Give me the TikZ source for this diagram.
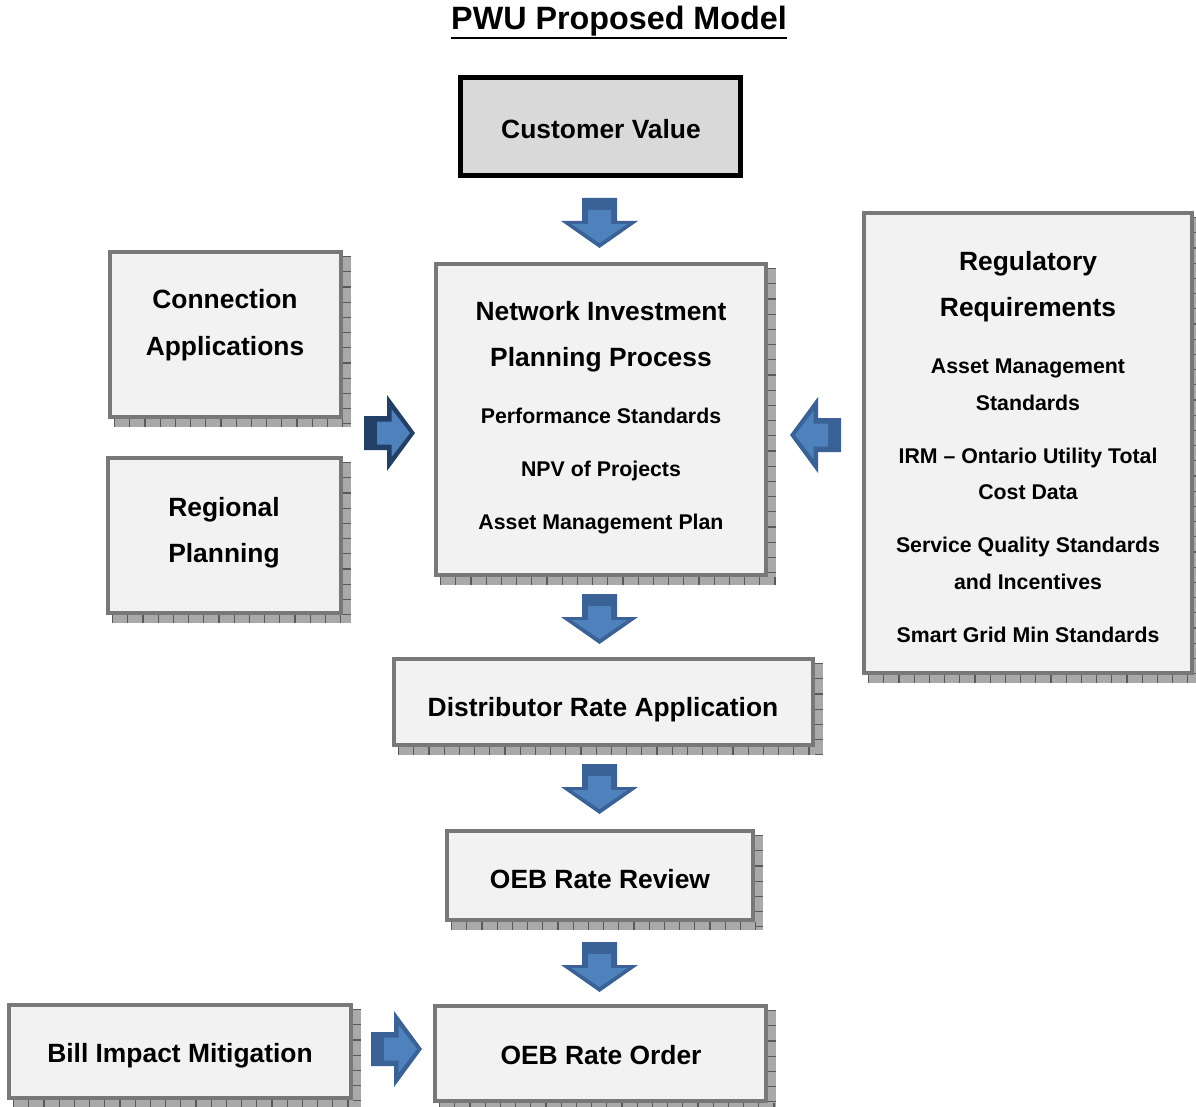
\documentclass[tikz,border=0pt]{standalone}
\usepackage{fontspec}
\setmainfont{Liberation Sans}
\usetikzlibrary{backgrounds,calc}
\definecolor{boxfill}{HTML}{F2F2F2}
\definecolor{boxline}{HTML}{787878}
\definecolor{cvfill}{HTML}{D9D9D9}
\definecolor{shadowc}{HTML}{A9A9A9}
\definecolor{tickc}{HTML}{5A5A5A}
\definecolor{arrowfill}{HTML}{4F81BD}
\definecolor{arrowline}{HTML}{3B6296}
\definecolor{arrowdark}{HTML}{243F66}
\newcommand\boxshadow[1]{%
  \fill[shadowc] ($(#1.north west)+(6,6)$) rectangle ($(#1.south east)+(8,8)$);
  \draw[tickc, line width=8pt, dash pattern=on 1.2pt off 14pt] ($(#1.south west)+(6,4)$) -- ($(#1.south east)+(8,4)$);
  \draw[tickc, line width=8pt, dash pattern=on 1.2pt off 14pt] ($(#1.north east)+(4,6)$) -- ($(#1.south east)+(4,8)$);
}
\tikzset{
  pbox/.style={draw=boxline, line width=4pt, fill=boxfill, inner sep=0pt},
  cvbox/.style={draw=black, line width=5pt, fill=cvfill, inner sep=0pt},
  bigtxt/.style={font=\bfseries\fontsize{26.4}{30}\selectfont, anchor=base, inner sep=0pt},
  smalltxt/.style={font=\bfseries\fontsize{21.3}{25}\selectfont, anchor=base, inner sep=0pt},
  titletxt/.style={font=\bfseries\fontsize{32.3}{38}\selectfont, anchor=base, inner sep=0pt},
  downarr/.pic={
    \fill[arrowline] (-17.5,0) -- (17.5,0) -- (17.5,23) -- (38.5,23) -- (0,50) -- (-38.5,23) -- (-17.5,23) -- cycle;
    \fill[arrowfill] (-11.5,12) -- (11.5,12) -- (11.5,26) -- (28,26) -- (0,45) -- (-28,26) -- (-11.5,26) -- cycle;
  },
  rightarr/.pic={
    \fill[arrowline] (0,-17) -- (23,-17) -- (23,-38) -- (51,0) -- (23,38) -- (23,17) -- (0,17) -- cycle;
    \fill[arrowfill] (13,-11.5) -- (27.5,-11.5) -- (27.5,-24) -- (46,0) -- (27.5,24) -- (27.5,11.5) -- (13,11.5) -- cycle;
  },
}
\begin{document}
\begin{tikzpicture}[x=1pt,y=-1pt]
\useasboundingbox (0,0) rectangle (1196,1107);

% title
\node[titletxt] (title) at (619,30) {PWU Proposed Model};
\draw[line width=2.5pt] ($(title.base west)+(0,8)$) -- ($(title.base east)+(0,8)$);

% boxes
\node[cvbox, minimum width=280pt, minimum height=98pt] (cv) at (600.5,126.5) {};
\node[pbox, minimum width=330pt, minimum height=311pt] (nipp) at (601,419.5) {};
\node[pbox, minimum width=231pt, minimum height=165pt] (conn) at (225.5,334.5) {};
\node[pbox, minimum width=233pt, minimum height=155pt] (reg) at (224.5,535.5) {};
\node[pbox, minimum width=328pt, minimum height=460pt] (regreq) at (1028,443) {};
\node[pbox, minimum width=419pt, minimum height=86pt] (dra) at (603.5,702) {};
\node[pbox, minimum width=306pt, minimum height=89pt] (review) at (600,875.5) {};
\node[pbox, minimum width=342pt, minimum height=93pt] (bill) at (180,1051.5) {};
\node[pbox, minimum width=331pt, minimum height=95pt] (order) at (600.5,1053.5) {};

\begin{scope}[on background layer]
  \boxshadow{nipp}
  \boxshadow{conn}
  \boxshadow{reg}
  \boxshadow{regreq}
  \boxshadow{dra}
  \boxshadow{review}
  \boxshadow{bill}
  \boxshadow{order}
\end{scope}

% texts
\node[bigtxt] (cvt) at (601,138.5) {Customer Value};
\node[bigtxt] (n1) at (601,320.5) {Network Investment};
\node[bigtxt] (n2) at (601,366.5) {Planning Process};
\node[smalltxt] (n3) at (601,423.5) {Performance Standards};
\node[smalltxt] (n4) at (601,476.5) {NPV of Projects};
\node[smalltxt] (n5) at (601,529.5) {Asset Management Plan};
\node[bigtxt] (c1) at (225,308.5) {Connection};
\node[bigtxt] (c2) at (225,355.5) {Applications};
\node[bigtxt] (r1) at (224,516.5) {Regional};
\node[bigtxt] (r2) at (224,562.5) {Planning};
\node[bigtxt] (q1) at (1028,270.5) {Regulatory};
\node[bigtxt] (q2) at (1028,316.5) {Requirements};
\node[smalltxt] (q3) at (1028,373.5) {Asset Management};
\node[smalltxt] (q4) at (1028,410.5) {Standards};
\node[smalltxt] (q5) at (1028,463.5) {IRM – Ontario Utility Total};
\node[smalltxt] (q6) at (1028,499.5) {Cost Data};
\node[smalltxt] (q7) at (1028,552.5) {Service Quality Standards};
\node[smalltxt] (q8) at (1028,589.5) {and Incentives};
\node[smalltxt] (q9) at (1028,642.5) {Smart Grid Min Standards};
\node[bigtxt] (drat) at (603,716.5) {Distributor Rate Application};
\node[bigtxt] (revt) at (600,888.5) {OEB Rate Review};
\node[bigtxt] (billt) at (180,1062.5) {Bill Impact Mitigation};
\node[bigtxt] (ordt) at (601,1064.5) {OEB Rate Order};

% block arrows
\pic at (599.5,198) {downarr};
\pic at (599.5,594) {downarr};
\pic at (599.5,764) {downarr};
\pic at (599.5,942) {downarr};
\begin{scope}
  \colorlet{arrowline}{arrowdark}
  \pic at (364,433) {rightarr};
\end{scope}
\pic[xscale=-1] at (841,435) {rightarr};
\pic at (371,1049) {rightarr};
\end{tikzpicture}
\end{document}
